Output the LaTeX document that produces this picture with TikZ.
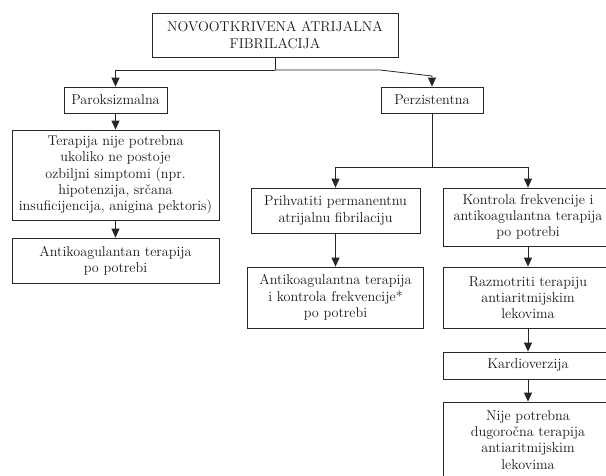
\documentclass[tikz,border=0pt]{standalone}
\usepackage{xcolor}
\usepackage{tikz}
\usetikzlibrary{arrows.meta,positioning}
\definecolor{linec}{HTML}{262626}
\definecolor{textc}{HTML}{1A1A1A}
\tikzset{
  box/.style={draw=linec,line width=0.8pt,align=center,inner sep=0pt,text=textc,
    font=\fontsize{14.2}{16.2}\selectfont},
  ln/.style={linec,line width=0.8pt},
  ar/.style={-{Triangle[length=9pt,width=8pt]},line width=0.8pt,linec}
}
\begin{document}
\begin{tikzpicture}[x=1pt,y=-1pt]
\clip (0,0) rectangle (606,475);
\fill[white] (0,0) rectangle (606,475);
% top
\node[box,minimum width=246pt,minimum height=44pt] (novo) at (275,35) {NOVOOTKRIVENA ATRIJALNA\\FIBRILACIJA};
\node[box,minimum width=103pt,minimum height=26pt] (parok) at (115.5,100) {Paroksizmalna};
\node[box,minimum width=102pt,minimum height=26pt] (perz) at (432,100) {Perzistentna};
% left branch
\node[box,minimum width=207pt,minimum height=90pt] (terap) at (115.5,175) {Terapija nije potrebna\\ukoliko ne postoje\\ozbiljni simptomi (npr.\\hipotenzija, srčana\\insuficijencija, anigina pektoris)};
\node[box,minimum width=207pt,minimum height=45pt] (antik) at (115.5,260.5) {Antikoagulantan terapija\\po potrebi};
% right branch
\node[box,minimum width=169pt,minimum height=45pt] (prihv) at (335.5,210.5) {Prihvatiti permanentnu\\atrijalnu fibrilaciju};
\node[box,minimum width=176pt,minimum height=61pt] (antikk) at (335.5,297.5) {Antikoagulantna terapija\\i kontrola frekvencije*\\po potrebi};
\node[box,minimum width=170pt,minimum height=58pt] (kontr) at (528,217) {Kontrola frekvencije i\\antikoagulantna terapija\\po potrebi};
\node[box,minimum width=170pt,minimum height=61pt] (razm) at (528,297.5) {Razmotriti terapiju\\antiaritmijskim\\lekovima};
\node[box,minimum width=170pt,minimum height=27pt] (kardio) at (528,365.5) {Kardioverzija};
\node[box,minimum width=170pt,minimum height=76pt] (nije) at (528,440) {Nije potrebna\\dugoročna terapija\\antiaritmijskim\\lekovima};
% connectors
\draw[ln] (novo.south) -- (275,70) coordinate (jn);
\draw[ar] (jn) -| (parok.north);
\draw[ar] (jn) -- (380,70) -- (432,76) -- (perz.north);
\draw[ar] (parok) -- (terap);
\draw[ar] (terap) -- (antik);
\draw[ln] (perz.south) -- (432,167) coordinate (jp);
\draw[ar] (jp) -| (prihv.north);
\draw[ar] (jp) -| (kontr.north);
\draw[ar] (prihv) -- (antikk);
\draw[ar] (kontr) -- (razm);
\draw[ar] (razm) -- (kardio);
\draw[ar] (kardio) -- (nije);
\end{tikzpicture}
\end{document}
